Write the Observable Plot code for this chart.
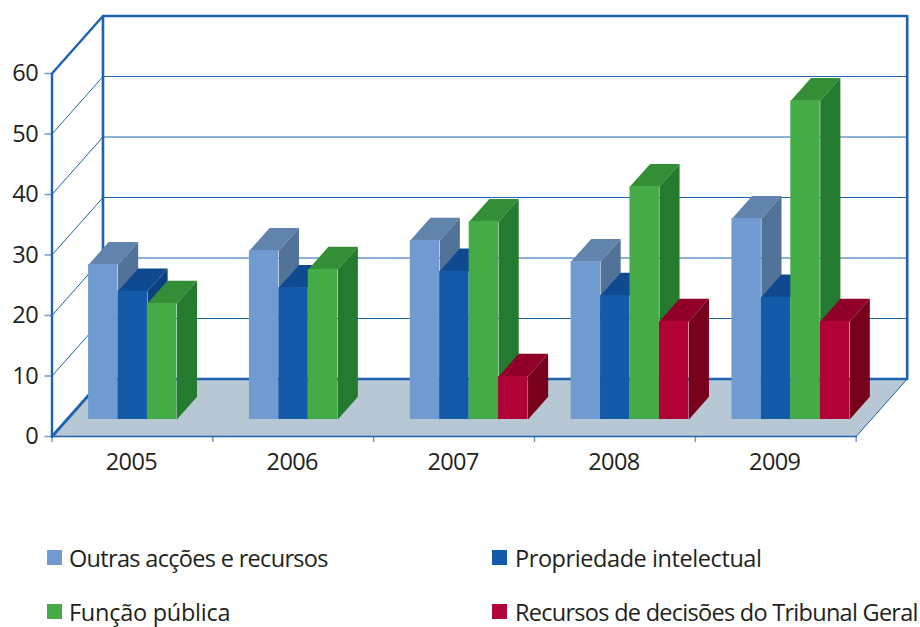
<!DOCTYPE html>
<html><head><meta charset="utf-8">
<script src="https://cdn.jsdelivr.net/npm/d3@7"></script>
<script src="https://cdn.jsdelivr.net/npm/@observablehq/plot@0.6"></script>
<style>
html,body{margin:0;padding:0;background:#fff;overflow:hidden;width:920px;height:627px}
svg{display:block}
svg text{letter-spacing:-0.6px}
#legend{position:relative;height:157px;font:23.5px "Open Sans",sans-serif;color:#231f20;white-space:nowrap}
#legend div{position:absolute;line-height:24px}
#legend i{position:absolute;width:15px;height:15px;top:4px}
</style></head><body>
<div id="chart"></div>
<div id="legend"></div>
<script>
const years = [2005, 2006, 2007, 2008, 2009];
const seriesNames = ["Outras acções e recursos", "Propriedade intelectual", "Função pública", "Recursos de decisões do Tribunal Geral"];
const outras = [25.6, 27.9, 29.6, 26.1, 33.2];
const propriedade = [21.2, 21.8, 24.5, 20.5, 20.2];
const funcao = [19.2, 24.8, 32.7, 38.5, 52.7];
const recursos = [null, null, 7.1, 16.2, 16.2];
const yTicks = [0, 10, 20, 30, 40, 50, 60];
const gridValues = [10, 20, 30, 40, 50];
const frontColors = ["#6f9bd1", "#135aa9", "#45ab46", "#b00236"];
const topColors = ["#6184ad", "#0f4a90", "#348e36", "#900029"];
const sideColors = ["#537298", "#0e4183", "#247a2e", "#77001a"];
const legendSpacing = [-0.68, -0.42, -0.26, -0.72];
const wall = "#1d62ae", floorColor = "#b7c7d3", ink = "#231f20";

const allSeries = [outras, propriedade, funcao, recursos];
const x0 = years[0] - 0.5, x1 = years[years.length - 1] + 0.5, yMax = 60;
// oblique projection: depth 0 = front plane, depth 1 = back wall
const kx = 51 / 160.9, kv = 9.5;
const P = (x, v, d = 0) => ({x: x + d * kx, y: v + d * kv});
const fd = 0.2957, bd = 0.395;           // bar front depth, bar thickness
const slotStart = 0.1338, slotW = 0.183; // slots inside a year band

const poly = (pts, o) => Plot.line(pts, {x: "x", y: "y", ...o});

const marks = [];
// floor
marks.push(poly([P(x0,0,0),P(x1,0,0),P(x1,0,1),P(x0,0,1),P(x0,0,0)], {fill: floorColor, stroke: "none"}));
// gridlines, back wall and left wall
for (const v of gridValues) {
  marks.push(poly([P(x0,v,0),P(x0,v,1),P(x1,v,1)], {stroke: wall, strokeWidth: 1}));
}
// tick marks
marks.push(Plot.axisY({ticks: yTicks, tickSize: 7, stroke: "#6f9bd1", strokeWidth: 1.5, fill: ink, fontSize: 23.5, tickPadding: 7, label: null, fontFamily: "Open Sans", fontVariant: "normal"}));
marks.push(Plot.axisX({ticks: [x0, ...years.map(y => y + 0.5)], tickSize: 6, stroke: "#6f9bd1", strokeWidth: 1.5, text: null, label: null}));
marks.push(Plot.axisX({ticks: years, tickSize: 0, tickFormat: "d", tickPadding: 17, dx: -1, fill: ink, fontSize: 23.5, label: null, fontFamily: "Open Sans", fontVariant: "normal"}));
// frame
marks.push(poly([P(x0,0,1),P(x1,0,1),P(x1,yMax,1),P(x0,yMax,1),P(x0,0,1)], {stroke: wall, strokeWidth: 2.6}));
marks.push(poly([P(x0,0,0),P(x0,yMax,0),P(x0,yMax,1)], {stroke: wall, strokeWidth: 2.4}));
marks.push(poly([P(x0,0,0),P(x0,0,1)], {stroke: wall, strokeWidth: 2.8}));
marks.push(poly([P(x0,0,0),P(x1,0,0)], {stroke: wall, strokeWidth: 1.5}));
marks.push(poly([P(x1,0,0),P(x1,0,1)], {stroke: wall, strokeWidth: 1}));

// bars: one layer per series, so each one covers the side of its left neighbour
allSeries.forEach((vals, s) => {
  const bars = years.map((yr, i) => ({yr, v: vals[i], l: yr - 0.5 + slotStart + s * slotW, r: yr - 0.5 + slotStart + (s + 1) * slotW}))
    .filter(b => b.v != null);
  const tops = bars.flatMap(b => [P(b.l,b.v,fd),P(b.r,b.v,fd),P(b.r,b.v,fd+bd),P(b.l,b.v,fd+bd)].map(p => ({...p, k: b.yr})));
  const sides = bars.flatMap(b => [P(b.r,0,fd),P(b.r,b.v,fd),P(b.r,b.v,fd+bd),P(b.r,0,fd+bd)].map(p => ({...p, k: b.yr})));
  marks.push(Plot.line(tops, {x: "x", y: "y", z: "k", fill: topColors[s], stroke: "none"}));
  marks.push(Plot.line(sides, {x: "x", y: "y", z: "k", fill: sideColors[s], stroke: "none"}));
  marks.push(Plot.rect(bars, {
    x1: b => P(b.l,0,fd).x, x2: b => P(b.r,0,fd).x,
    y1: b => P(b.l,0,fd).y, y2: b => P(b.l,b.v,fd).y,
    fill: frontColors[s]
  }));
});

const chart = Plot.plot({
  width: 920, height: 470,
  marginLeft: 51.5, marginRight: 64.3, marginTop: 73, marginBottom: 34,
  x: {type: "linear", domain: [x0, x1]},
  y: {domain: [0, yMax]},
  style: {background: "transparent", overflow: "visible"},
  marks
});
document.getElementById("chart").append(chart);

const pos = [[47, 76], [492, 76], [47, 130], [492, 130]];
const legend = document.getElementById("legend");
seriesNames.forEach((name, i) => {
  const d = document.createElement("div");
  d.style.left = pos[i][0] + "px";
  d.style.top = pos[i][1] + "px";
  d.style.paddingLeft = (i % 2 ? 23 : 22) + "px";
  d.style.letterSpacing = legendSpacing[i] + "px";
  const sw = document.createElement("i");
  sw.style.left = "0"; sw.style.background = frontColors[i];
  d.append(sw, document.createTextNode(name));
  legend.append(d);
});
</script>
</body></html>
